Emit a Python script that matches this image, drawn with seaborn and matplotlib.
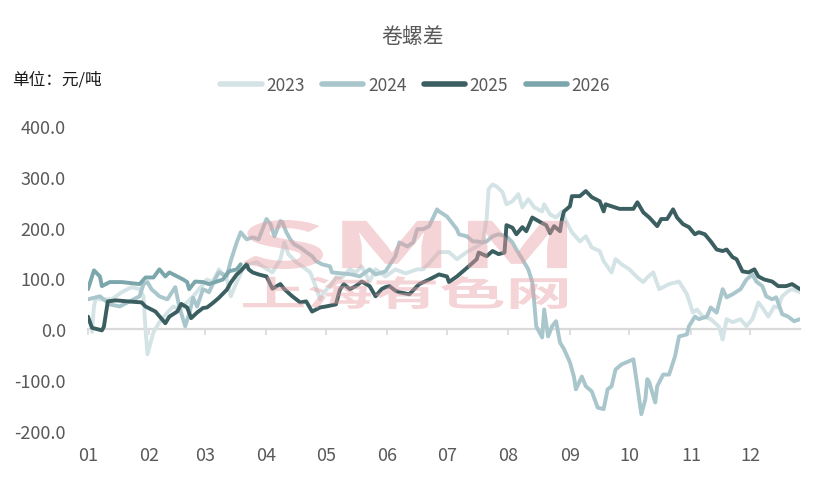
import numpy as np
import pandas as pd
import matplotlib
matplotlib.use('Agg')
import matplotlib.pyplot as plt
import matplotlib.transforms as mtransforms
import seaborn as sns
from matplotlib.textpath import TextPath
from matplotlib.patches import PathPatch
from matplotlib.font_manager import FontProperties

# ---- data: day of year -> spread (yuan/ton) ----
years = ['2023', '2024', '2025', '2026']
colors = ['#d4e3e5', '#a8c6cb', '#3b5e61', '#7ba6ab']

month_start = [0, 31, 59, 90, 120, 151, 181, 212, 243, 273, 304, 334]
month_labels = ['01', '02', '03', '04', '05', '06', '07', '08', '09', '10', '11', '12']

d2023 = [2, 3, 4, 6, 12, 17, 22, 26, 28, 29, 30, 32, 33, 36, 40, 43, 46, 50, 53, 56,
         60, 63, 66, 70, 72, 75, 78, 81, 85, 88, 93, 97, 99, 101, 105, 108, 112, 114, 117, 119,
         122, 125, 128, 132, 135, 138, 142, 145, 150, 155, 160, 166, 169, 172, 177, 182, 186, 191, 196, 199,
         201, 202, 204, 206, 209, 211, 214, 217, 219, 222, 225, 229, 230, 233, 236, 239, 241, 244, 248, 251,
         254, 258, 260, 264, 266, 269, 273, 277, 280, 282, 285, 288, 293, 298, 302, 305, 307, 310, 314, 318,
         320, 322, 325, 329, 332, 335, 338, 340, 343, 346, 348, 350, 353, 355, 359]
v2023 = [-5, 45, 62, 59, 59, 73, 83, 79, 65, 0, -49, -20, -6, 14, 33, 45, 39, 53, 65, 79,
         98, 93, 118, 98, 65, 93, 118, 128, 132, 124, 112, 138, 171, 148, 132, 124, 112, 93, 59, 73,
         85, 102, 102, 118, 112, 124, 94, 118, 104, 118, 110, 118, 118, 130, 152, 152, 138, 152, 163, 171,
         217, 276, 285, 281, 270, 246, 252, 266, 240, 256, 240, 232, 246, 226, 220, 232, 213, 191, 173, 183,
         161, 154, 134, 112, 138, 128, 118, 102, 93, 102, 112, 79, 89, 94, 69, 33, 39, 25, 20, 6,
         -20, 20, 14, 20, 6, 20, 53, 43, 25, 45, 43, 65, 75, 79, 73]

d2024 = [0, 3, 6, 11, 16, 21, 26, 28, 30, 32, 36, 40, 44, 46, 49, 51, 53, 55, 58, 61,
         64, 66, 70, 72, 75, 77, 80, 83, 86, 88, 90, 92, 94, 97, 98, 100, 102, 104, 107, 110,
         113, 115, 118, 122, 123, 133, 137, 142, 145, 150, 155, 157, 161, 164, 166, 169, 172, 176, 177, 181,
         186, 187, 191, 194, 196, 199, 201, 204, 207, 211, 214, 216, 219, 222, 224, 225, 226, 229, 230, 232,
         234, 236, 238, 240, 243, 245, 246, 249, 251, 254, 257, 260, 262, 264, 266, 269, 275, 277, 279, 281,
         282, 283, 286, 287, 290, 293, 296, 298, 302, 303, 306, 308, 312, 314, 317, 320, 322, 325, 329, 332,
         335, 337, 340, 342, 345, 347, 350, 353, 356, 359]
v2024 = [59, 62, 65, 49, 45, 55, 65, 89, 93, 79, 65, 59, 83, 45, 6, 30, 62, 45, 79, 73,
         98, 112, 105, 135, 171, 191, 177, 181, 177, 197, 217, 207, 183, 213, 211, 191, 177, 167, 161, 152,
         144, 134, 128, 124, 112, 108, 104, 118, 108, 114, 144, 171, 163, 171, 197, 197, 203, 236, 232, 222,
         197, 187, 183, 173, 173, 171, 173, 183, 187, 183, 171, 157, 138, 118, 93, 53, 6, -16, 39, -14,
         6, 16, -26, -39, -65, -93, -118, -93, -112, -122, -154, -157, -118, -112, -79, -69, -59, -112, -167, -138,
         -98, -104, -144, -112, -89, -89, -53, -14, -10, 6, 25, 20, 25, 43, 33, 79, 63, 69, 79, 98,
         108, 94, 85, 65, 59, 63, 30, 25, 16, 20]

d2025 = [0, 2, 5, 7, 8, 10, 14, 20, 27, 29, 34, 39, 41, 45, 47, 50, 52, 55, 58, 60,
         63, 66, 70, 72, 75, 77, 80, 81, 83, 86, 90, 93, 97, 99, 103, 107, 110, 113, 117, 120,
         125, 127, 129, 132, 135, 138, 142, 145, 148, 150, 152, 155, 157, 162, 167, 172, 177, 181, 182, 186,
         189, 192, 196, 197, 201, 204, 207, 210, 211, 214, 216, 219, 221, 224, 228, 231, 233, 235, 238, 239,
         240, 243, 244, 248, 251, 254, 258, 260, 261, 264, 268, 275, 277, 280, 283, 287, 289, 292, 295, 297,
         300, 303, 306, 308, 311, 314, 317, 320, 322, 325, 327, 330, 333, 336, 338, 341, 345, 348, 352, 355,
         359]
v2025 = [25, 3, 0, -2, 5, 55, 57, 55, 53, 45, 35, 12, 25, 35, 50, 43, 22, 33, 42, 43,
         52, 62, 78, 92, 108, 115, 128, 118, 112, 108, 104, 80, 89, 79, 65, 53, 55, 35, 43, 45,
         49, 78, 89, 79, 85, 94, 85, 65, 79, 83, 85, 76, 73, 69, 89, 98, 108, 104, 93, 104,
         114, 124, 138, 151, 144, 154, 148, 151, 205, 200, 187, 201, 193, 220, 211, 205, 189, 203, 193, 217,
         232, 242, 262, 262, 272, 260, 252, 232, 246, 242, 237, 237, 250, 230, 220, 203, 217, 217, 236, 220,
         207, 201, 187, 191, 187, 173, 157, 154, 157, 142, 138, 114, 112, 118, 104, 98, 94, 85, 85, 89,
         79]

d2026 = [0, 3, 6, 7, 11, 17, 26, 29, 33, 36, 39, 41, 45, 48, 50, 51, 54, 58, 61, 65,
         68, 71, 75, 77]
v2026 = [79, 116, 104, 85, 93, 93, 89, 102, 102, 118, 104, 112, 104, 98, 93, 79, 94, 93, 89, 94,
         98, 114, 118, 128]

frames = []
for yr, d, v in zip(years, [d2023, d2024, d2025, d2026], [v2023, v2024, v2025, v2026]):
    frames.append(pd.DataFrame({'day': d, 'value': v, 'year': yr}))
df = pd.concat(frames, ignore_index=True)

sns.set_style('white')
plt.rcParams['font.family'] = ['Noto Sans CJK SC', 'DejaVu Sans']

fig = plt.figure(figsize=(8.23, 4.81), dpi=100)
ax = fig.add_axes([88 / 823, 1 - 432 / 481, 712 / 823, 305 / 481])

sns.lineplot(data=df, x='day', y='value', hue='year', hue_order=years,
             palette=dict(zip(years, colors)), estimator=None, linewidth=2.8,
             solid_joinstyle='round', solid_capstyle='round', ax=ax)

ax.set_xlim(0, 359)
ax.set_ylim(-200, 400)
ax.set_yticks(np.arange(-200, 401, 100))
ax.set_yticklabels([f'{t:.1f}' for t in np.arange(-200, 401, 100)])
ax.set_xticks(month_start)
ax.set_xticklabels(month_labels)
ax.set_xlabel('')
ax.set_ylabel('')
for s in ax.spines.values():
    s.set_visible(False)
ax.tick_params(axis='y', length=0, pad=16, labelsize=13, labelcolor='#595959')
ax.tick_params(axis='x', length=0, pad=11, labelsize=13, labelcolor='#595959')

# zero line with month ticks
sec = ax.secondary_xaxis(1 / 3)
sec.set_xticks(month_start)
sec.set_xticklabels([])
sec.tick_params(length=4, width=1.2, color='#d9d9d9', direction='out')
sec.spines['bottom'].set_color('#d9d9d9')
sec.spines['bottom'].set_linewidth(1.6)

# legend
handles, labels = ax.get_legend_handles_labels()
ax.get_legend().remove()
leg = fig.legend(handles, labels, loc='center', bbox_to_anchor=(415 / 823, 1 - 86 / 481),
                 ncol=4, frameon=False, fontsize=12.5, handlelength=2.4, handletextpad=0.25,
                 columnspacing=1.0, labelcolor='#595959')
for ln in leg.get_lines():
    ln.set_linewidth(4)
    ln.set_solid_capstyle('round')

fig.text(413 / 823, 1 - 37 / 481, '卷螺差', ha='center', va='center', fontsize=15, color='#595959')
fig.text(12 / 823, 1 - 80 / 481, '单位：元/吨', ha='left', va='center', fontsize=12, color='#1a1a1a')


# watermark
def stamp(text, x0, y0, w, h):
    prop = FontProperties(family='Noto Sans CJK SC', weight='bold')
    tp = TextPath((0, 0), text, size=100, prop=prop)
    ext = tp.get_extents()
    tr = (mtransforms.Affine2D().translate(-ext.x0, -ext.y0)
          .scale(w / ext.width, h / ext.height).translate(x0, y0) + fig.dpi_scale_trans)
    fig.add_artist(PathPatch(tp, transform=tr, facecolor='#e8a0a4', edgecolor='none',
                             alpha=0.45, zorder=10))


stamp('SMM', 2.43, 2.11, 3.24, 0.49)
stamp('上海有色网', 2.43, 1.71, 3.24, 0.33)

fig.savefig('out.png', dpi=100)
